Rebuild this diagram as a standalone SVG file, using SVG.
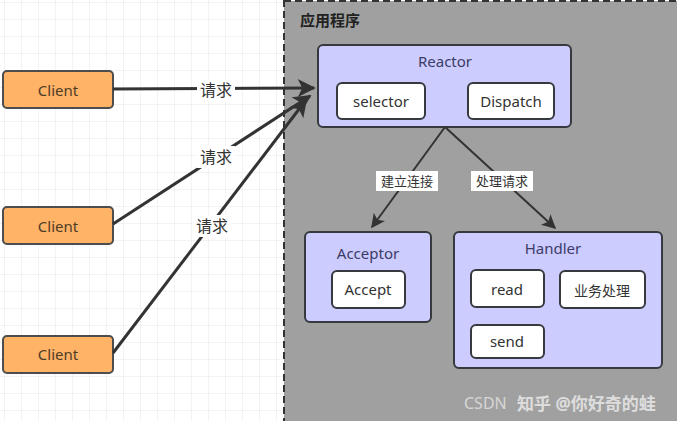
<svg xmlns="http://www.w3.org/2000/svg" width="677" height="421" viewBox="0 0 677 421">
<defs>
<pattern id="grid" width="17" height="17" patternUnits="userSpaceOnUse" x="5" y="3">
<path d="M17 0V17M0 17H17" fill="none" stroke="#e6e6e6" stroke-width="1"/>
</pattern>
<marker id="ah" viewBox="0 0 10 10" refX="9" refY="5" markerWidth="6.5" markerHeight="6" orient="auto" markerUnits="strokeWidth">
<path d="M0 0L10 5L0 10L2.5 5Z" fill="#333"/>
</marker>
<marker id="ah2" viewBox="0 0 10 10" refX="9" refY="5" markerWidth="7.5" markerHeight="7" orient="auto" markerUnits="strokeWidth">
<path d="M0 0L10 5L0 10L2.5 5Z" fill="#333"/>
</marker>
</defs>
<style>
text{font-family:"Noto Sans","Open Sans","Noto Sans CJK SC",sans-serif;font-size:15px;fill:#333;text-anchor:middle;dominant-baseline:central}
.client rect{fill:#ffb366;stroke:#4d4d4d;stroke-width:2}
.client text{fill:#4d3b26}
.purple{fill:#ccccff;stroke:#36393d;stroke-width:2}
.white{fill:#fff;stroke:#36393d;stroke-width:2}
.ptxt{fill:#3b3b66}
.conn line{stroke:#333;fill:none}
.lbl{fill:#fff}
</style>
<rect width="677" height="421" fill="#fff"/>
<rect width="290" height="421" fill="url(#grid)"/>
<g id="app">
<rect x="284" y="1" width="410" height="440" fill="#a0a0a0" stroke="#333" stroke-width="2" stroke-dasharray="7 4"/>
<text x="300" y="20" style="text-anchor:start;font-weight:bold;font-size:15px;fill:#222">应用程序</text>
</g>
<g id="reactor">
<rect class="purple" x="318" y="45" width="253" height="82" rx="5"/>
<text class="ptxt" x="445" y="61">Reactor</text>
</g>
<g id="selector">
<rect class="white" x="337" y="83" width="88" height="36" rx="5"/>
<text x="381" y="101">selector</text>
</g>
<g id="dispatch">
<rect class="white" x="468" y="83" width="86" height="36" rx="5"/>
<text x="511" y="101">Dispatch</text>
</g>
<g id="acceptor">
<rect class="purple" x="305" y="232" width="126" height="90" rx="5"/>
<text class="ptxt" x="368" y="253">Acceptor</text>
</g>
<g id="accept">
<rect class="white" x="332" y="271" width="73" height="37" rx="5"/>
<text x="368" y="289">Accept</text>
</g>
<g id="handler">
<rect class="purple" x="454" y="232" width="208" height="136" rx="5"/>
<text class="ptxt" x="553" y="248">Handler</text>
</g>
<g id="read">
<rect class="white" x="471" y="270" width="73" height="37" rx="5"/>
<text x="507" y="289">read</text>
</g>
<g id="biz">
<rect class="white" x="560" y="271" width="85" height="37" rx="5"/>
<text x="602" y="290" style="font-size:14px">业务处理</text>
</g>
<g id="send">
<rect class="white" x="471" y="325" width="73" height="33" rx="5"/>
<text x="507" y="341">send</text>
</g>
<g id="client1" class="client">
<rect x="3" y="71" width="110" height="37" rx="4"/>
<text x="58" y="90">Client</text>
</g>
<g id="client2" class="client">
<rect x="3" y="207" width="110" height="37" rx="4"/>
<text x="58" y="226">Client</text>
</g>
<g id="client3" class="client">
<rect x="3" y="336" width="110" height="37" rx="4"/>
<text x="58" y="354">Client</text>
</g>
<g id="connectors" class="conn">
<line x1="113" y1="89" x2="314" y2="88" stroke-width="3" marker-end="url(#ah)"/>
<line x1="113" y1="224" x2="310" y2="96" stroke-width="3" marker-end="url(#ah)"/>
<line x1="113" y1="353" x2="306" y2="100" stroke-width="3" marker-end="url(#ah)"/>
<line x1="445" y1="127" x2="372" y2="227" stroke-width="2" marker-end="url(#ah2)"/>
<line x1="445" y1="127" x2="555" y2="228" stroke-width="2" marker-end="url(#ah2)"/>
<rect class="lbl" x="197" y="79" width="38" height="22"/>
<text x="216" y="90" style="font-size:16px">请求</text>
<rect class="lbl" x="197" y="146" width="38" height="22"/>
<text x="216" y="157" style="font-size:16px">请求</text>
<rect class="lbl" x="193" y="215" width="38" height="22"/>
<text x="212" y="226" style="font-size:16px">请求</text>
<rect class="lbl" x="376" y="171" width="62" height="20"/>
<text x="407" y="181" style="font-size:13px">建立连接</text>
<rect class="lbl" x="471" y="171" width="62" height="20"/>
<text x="502" y="181" style="font-size:13px">处理请求</text>
</g>
<g id="watermark" opacity="0.75">
<text x="464" y="403" style="text-anchor:start;font-size:16px;fill:#e8e8e8">CSDN</text>
<text x="517" y="403" style="text-anchor:start;font-size:17px;fill:#f2f2f2;font-weight:bold">知乎 @你好奇的蛙</text>
</g>
</svg>
